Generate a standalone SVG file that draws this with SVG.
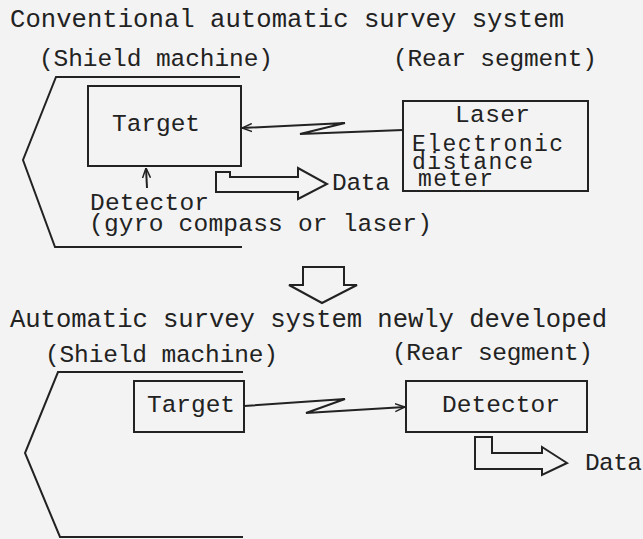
<svg xmlns="http://www.w3.org/2000/svg" width="643" height="539" viewBox="0 0 643 539">
<style>
text{font-family:"Liberation Mono","Courier New",monospace;font-size:24.5px;fill:#222}
.t{font-size:25.6px}
.s{font-size:23px}
.ln{fill:none;stroke:#222;stroke-width:2;stroke-linejoin:miter}
.box{fill:none;stroke:#222;stroke-width:2}
.big{fill:none;stroke:#222;stroke-width:2;stroke-linejoin:miter}
</style>
<defs>
<marker id="open" viewBox="0 0 10 10" refX="10" refY="5" markerWidth="10" markerHeight="10" markerUnits="userSpaceOnUse" orient="auto">
<path d="M0,1 L10,5 L0,9" fill="none" stroke="#222" stroke-width="1.5"/>
</marker>
</defs>
<rect width="643" height="539" fill="#f3f3f3"/>
<text class="t" x="10" y="27" textLength="554" lengthAdjust="spacing">Conventional automatic survey system</text>
<text x="39" y="66" textLength="234" lengthAdjust="spacing">(Shield machine)</text>
<text x="393" y="66" textLength="204" lengthAdjust="spacing">(Rear segment)</text>
<g id="shield1"><path class="ln" d="M240,77 L56,77 L23,160 L55,247 L242,247"/></g>
<g id="target1"><rect class="box" x="88" y="86" width="153" height="80"/><text x="112" y="131" textLength="88" lengthAdjust="spacing">Target</text></g>
<g id="laser"><rect class="box" x="403" y="101" width="185" height="90"/>
<text x="455" y="122" textLength="75" lengthAdjust="spacing">Laser</text>
<text class="s" x="412" y="151" textLength="151" lengthAdjust="spacing">Electronic</text>
<text class="s" x="412" y="169" textLength="121" lengthAdjust="spacing">distance</text>
<text class="s" x="418" y="186" textLength="75" lengthAdjust="spacing">meter</text></g>
<g id="detector1"><text x="90" y="210" textLength="119" lengthAdjust="spacing">Detector</text><text x="89" y="231" textLength="343" lengthAdjust="spacing">(gyro compass or laser)</text></g>
<g id="data1"><text x="332" y="190" textLength="58" lengthAdjust="spacing">Data</text></g>
<g id="downarrow"><path class="big" d="M303,267 L344,267 L344,285 L357,285 L322,303 L289,285 L303,285 Z"/></g>
<text class="t" x="10" y="327" textLength="597" lengthAdjust="spacing">Automatic survey system newly developed</text>
<text x="45" y="362" textLength="233" lengthAdjust="spacing">(Shield machine)</text>
<text x="392" y="360" textLength="201" lengthAdjust="spacing">(Rear segment)</text>
<g id="shield2"><path class="ln" d="M243,372 L58,372 L25,453 L60,537 L243,537"/></g>
<g id="target2"><rect class="box" x="134" y="381" width="110" height="51"/><text x="147" y="412" textLength="88" lengthAdjust="spacing">Target</text></g>
<g id="detector2"><rect class="box" x="406" y="381" width="181" height="51"/><text x="442" y="412" textLength="118" lengthAdjust="spacing">Detector</text></g>
<g id="data2"><text x="585" y="470" textLength="57" lengthAdjust="spacing">Data</text></g>
<g id="connectors">
<path class="ln" d="M403,130 L300,134 L345,123 L242,128" marker-end="url(#open)"/>
<path class="ln" d="M147,188 L146,168" marker-end="url(#open)"/>
<path class="big" d="M216,172 L230,172 L230,177 L298,177 L298,168 L327,184 L298,199 L298,192 L216,192 Z"/>
<path class="ln" d="M244,406 L345,399 L306,413 L405,407" marker-end="url(#open)"/>
<path class="big" d="M475,437 L492,437 L492,453 L542,453 L542,447 L567,463 L542,475 L542,469 L475,469 Z"/>
</g>
</svg>
